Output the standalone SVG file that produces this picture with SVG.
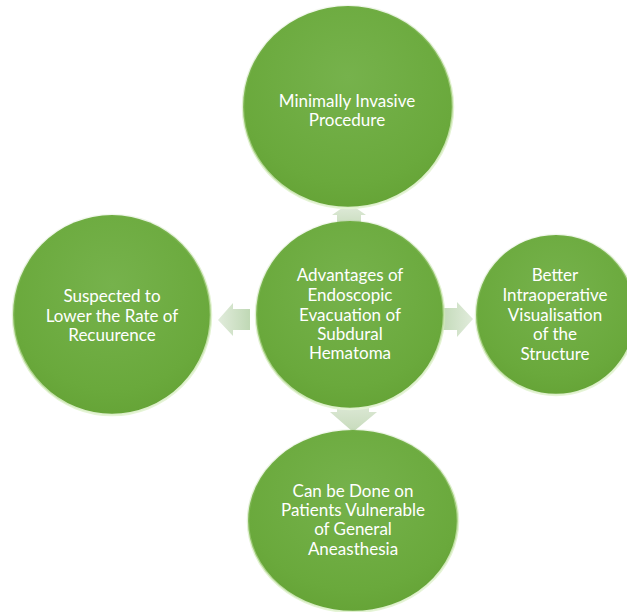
<svg xmlns="http://www.w3.org/2000/svg" width="627" height="612" viewBox="0 0 627 612">
  <defs>
    <radialGradient id="ballFill" cx="0.5" cy="0.35" r="0.7">
      <stop offset="0" stop-color="#76b24c"/>
      <stop offset="0.75" stop-color="#6aa93c"/>
      <stop offset="1" stop-color="#64a235"/>
    </radialGradient>
    <linearGradient id="rim" x1="0" y1="0" x2="0.3" y2="1">
      <stop offset="0" stop-color="#6aa93c" stop-opacity="0"/>
      <stop offset="0.6" stop-color="#c8e6a8" stop-opacity="0.5"/>
      <stop offset="1" stop-color="#e4f4d4" stop-opacity="0.95"/>
    </linearGradient>
    <linearGradient id="arrowH" x1="0" y1="0" x2="1" y2="0">
      <stop offset="0" stop-color="#bcd6b1"/>
      <stop offset="1" stop-color="#e0ebda"/>
    </linearGradient>
    <linearGradient id="arrowV" x1="0" y1="0" x2="0" y2="1">
      <stop offset="0" stop-color="#e0ebda"/>
      <stop offset="1" stop-color="#c4d9b8"/>
    </linearGradient>
  </defs>
  <style>
    .ball { fill: url(#ballFill); stroke: url(#rim); stroke-width: 2.5; }
    .label { font-family: Lato, "Liberation Sans", sans-serif; font-size: 17px; fill: #ffffff; text-anchor: middle; }
    .arrow { opacity: 0.95; }
  </style>

  <!-- block arrows from the hub to each satellite -->
  <g id="connectors">
    <polygon class="arrow" fill="url(#arrowV)" points="349,203 366,215 361,215 361,228 337,228 337,215 332,215"/>
    <polygon class="arrow" fill="url(#arrowH)" points="438,308 457,308 457,302 473,319 457,337 457,330 438,330"/>
    <polygon class="arrow" fill="url(#arrowH)" transform="translate(468,0) scale(-1,1)" points="218,309 235,309 235,303 250,320 235,336 235,330 218,330"/>
    <polygon class="arrow" fill="url(#arrowV)" points="337,398 369,398 369,412 377,412 353,432 330,412 337,412"/>
  </g>

  <g id="node-top">
    <ellipse class="ball" cx="348" cy="107" rx="105" ry="101"/>
    <text class="label" x="347" y="107">Minimally Invasive</text>
    <text class="label" x="347" y="126">Procedure</text>
  </g>

  <g id="node-hub">
    <circle class="ball" cx="350" cy="315" r="94"/>
    <text class="label" x="350" y="281">Advantages of</text>
    <text class="label" x="350" y="301">Endoscopic</text>
    <text class="label" x="350" y="321">Evacuation of</text>
    <text class="label" x="350" y="340">Subdural</text>
    <text class="label" x="350" y="359">Hematoma</text>
  </g>

  <g id="node-left">
    <ellipse class="ball" cx="112" cy="315" rx="99" ry="100"/>
    <text class="label" x="112" y="302">Suspected to</text>
    <text class="label" x="112" y="322">Lower the Rate of</text>
    <text class="label" x="112" y="341">Recuurence</text>
  </g>

  <g id="node-right">
    <circle class="ball" cx="556" cy="315" r="80"/>
    <text class="label" x="555" y="281">Better</text>
    <text class="label" x="555" y="301">Intraoperative</text>
    <text class="label" x="555" y="321">Visualisation</text>
    <text class="label" x="555" y="340">of the</text>
    <text class="label" x="555" y="360">Structure</text>
  </g>

  <g id="node-bottom">
    <ellipse class="ball" cx="353" cy="521" rx="105" ry="91"/>
    <text class="label" x="353" y="497">Can be Done on</text>
    <text class="label" x="353" y="516">Patients Vulnerable</text>
    <text class="label" x="353" y="535">of General</text>
    <text class="label" x="353" y="555">Aneasthesia</text>
  </g>
</svg>
